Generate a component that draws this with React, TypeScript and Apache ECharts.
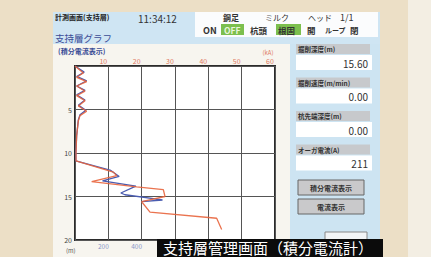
import React, { useEffect, useRef } from "react";
import * as echarts from "echarts";

// Integrated current (top axis, 0-60) vs depth (m)
const depthRed = [0, 0.8, 1.3, 1.8, 2.3, 2.9, 3.4, 4.0, 4.6, 5.2, 5.7, 6.3, 8, 10, 10.9, 12.2, 12.6, 13.3, 13.9, 14.2, 15.0, 15.6, 16.8, 17.5, 18.8];
const integratedCurrent = [0, 2.5, 0.5, 3.5, 0.5, 3, 0.5, 3, 1, 3.5, 1.5, 1, 0.5, 0.3, 0.3, 11.5, 12.5, 5, 18.5, 26.5, 27, 20, 22.5, 42.5, 44];

// Auger current (bottom axis, A) vs depth (m)
const depthBlue = [0, 0.7, 1.2, 1.7, 2.3, 2.8, 3.3, 3.9, 4.5, 5.1, 5.6, 6.2, 8, 10, 10.9, 12.0, 12.7, 13.2, 13.8, 14.6, 14.8, 15.4, 15.6];
const augerCurrent = [0, 55, 10, 70, 10, 60, 10, 60, 20, 65, 30, 20, 10, 5, 5, 215, 265, 165, 365, 275, 300, 525, 400];

// Bottom-axis tick labels that are visible (the rest lie under the caption banner)
const bottomTickLabels = [200, 400];

const panelLabels = ["掘削深度(m)", "掘削速度(m/min)", "杭先端深度(m)", "オーガ電流(A)"];
const panelValues = ["15.60", "0.00", "0.00", "211"];
const buttons = ["積分電流表示", "電流表示"];

const FONT = "'Noto Sans CJK JP', 'Noto Sans', sans-serif";

export default function App() {
  const ref = useRef<HTMLDivElement>(null);
  useEffect(() => {
    const chart = echarts.init(ref.current!, undefined, { renderer: "svg" });
    const t = (x: number, y: number, text: string, size: number, fill: string, extra: any = {}) => ({
      type: "text",
      x,
      y,
      z: extra.z ?? 5,
      style: { text, fontSize: size, fill, fontFamily: FONT, textVerticalAlign: "middle", fontWeight: extra.bold ? "bold" : "normal", textAlign: extra.align || "left" },
    });
    const rect = (x: number, y: number, w: number, h: number, fill: string, z = -10, stroke?: string) => ({
      type: "rect",
      z,
      shape: { x, y, width: w, height: h },
      style: { fill, stroke: stroke || null, lineWidth: stroke ? 1 : 0 },
    });

    const graphics: any[] = [
      rect(408, 0, 23, 257, "#f3eee3"),
      rect(53, 12, 327, 245, "#f7f5ef"),
      rect(53, 12, 327, 32, "#cfe5f3"),
      rect(195, 12, 183, 25, "#fbfcfd"),
      rect(290, 44, 90, 213, "#cde4f2"),
      t(55, 17, "計測画面(支持層)", 7, "#222", { bold: true }),
      t(138, 18, "11:34:12", 10, "#333"),
      t(55, 38, "支持層グラフ", 9.5, "#3b4c96"),
      t(58, 51, "(積分電流表示)", 7, "#3b4c96", { bold: true }),
      t(223, 17, "鋼足", 8, "#333", { bold: true }),
      t(265, 17, "ミルク", 8, "#333"),
      t(308, 17, "ヘッド", 8, "#333"),
      t(340, 17, "1/1", 9, "#333"),
      rect(221, 24, 23, 11, "#7cbf4e", 0),
      rect(276, 24, 25, 11, "#7cbf4e", 0),
      t(203, 30, "ON", 9, "#333", { bold: true }),
      t(224, 30, "OFF", 8.5, "#e9f5dc", { bold: true }),
      t(250, 30, "杭頭", 8.5, "#333", { bold: true }),
      t(278, 30, "根固", 8.5, "#333", { bold: true }),
      t(307, 30, "開", 8.5, "#333", { bold: true }),
      t(325, 30, "ループ", 7, "#333", { bold: true }),
      t(350, 30, "閉", 8.5, "#333", { bold: true }),
      t(66, 250, "(m)", 6, "#555"),
      t(268, 52.5, "(kA)", 6, "#e07a62", { align: "center" }),
    ];
    panelLabels.forEach((lab, i) => {
      const y0 = 44 + i * 33.5;
      graphics.push(rect(296, y0, 74, 10, "#c7c9cc", 0));
      graphics.push(t(298, y0 + 5, lab, 6.5, "#333", { bold: true }));
      graphics.push(rect(296, y0 + 11, 76, 15, "#ffffff", 0));
      graphics.push(t(368, y0 + 19, panelValues[i], 10, "#333", { align: "right" }));
    });
    buttons.forEach((b, i) => {
      const y0 = 180 + i * 19;
      graphics.push(rect(298, y0, 66, 15, "#c9c9cb", 0, "#666"));
      graphics.push(t(331, y0 + 7.5, b, 7, "#333", { align: "center", bold: true }));
    });
    graphics.push(rect(325, 232, 42, 12, "#f2f4f6", 0, "#888"));
    graphics.push(rect(157, 239, 226, 18, "#0b0b0b", 100));
    graphics.push(t(163, 247.5, "支持層管理画面（積分電流計）", 15, "#ffffff", { z: 101 }));

    const hide0 = (v: number) => (v === 0 ? "" : String(v));

    chart.setOption({
      animation: false,
      backgroundColor: "#ecdfc6",
      grid: { left: 75, top: 66, width: 200, height: 174, show: true, backgroundColor: "#ffffff", borderColor: "#2b2b2b", borderWidth: 2 },
      xAxis: [
        {
          type: "value", position: "top", min: 0, max: 60, interval: 10,
          axisLine: { show: false }, axisTick: { show: false },
          splitLine: { show: true, lineStyle: { color: "#555", width: 1 } },
          axisLabel: { formatter: hide0, color: "#e07a62", fontSize: 7, margin: 2, padding: [0, 10, 0, 0], fontFamily: FONT },
        },
        {
          type: "value", position: "bottom", min: 0, max: 1200, interval: 200,
          axisLine: { show: false }, axisTick: { show: false }, splitLine: { show: false },
          axisLabel: {
            formatter: (v: number) => (bottomTickLabels.includes(v) ? String(v) : ""),
            color: "#8a96c8", fontSize: 6.5, margin: 3, padding: [0, 10, 0, 0], fontFamily: FONT,
          },
        },
      ],
      yAxis: {
        type: "value", inverse: true, min: 0, max: 20, interval: 5,
        axisLine: { show: false }, axisTick: { show: false },
        splitLine: { show: true, lineStyle: { color: "#555", width: 1 } },
        axisLabel: { formatter: hide0, color: "#444", fontSize: 7, margin: 3, fontFamily: FONT },
      },
      series: [
        {
          type: "line", xAxisIndex: 1, yAxisIndex: 0, symbol: "none",
          lineStyle: { color: "#4a5cb0", width: 1.3 },
          data: depthBlue.map((d, i) => [augerCurrent[i], d]),
        },
        {
          type: "line", xAxisIndex: 0, yAxisIndex: 0, symbol: "none",
          lineStyle: { color: "#e8643c", width: 1.3, opacity: 0.9 },
          data: depthRed.map((d, i) => [integratedCurrent[i], d]),
        },
      ],
      graphic: graphics,
    });
    return () => chart.dispose();
  }, []);
  return <div ref={ref} style={{ position: "absolute", left: 0, top: 0, width: 431, height: 257 }} />;
}
